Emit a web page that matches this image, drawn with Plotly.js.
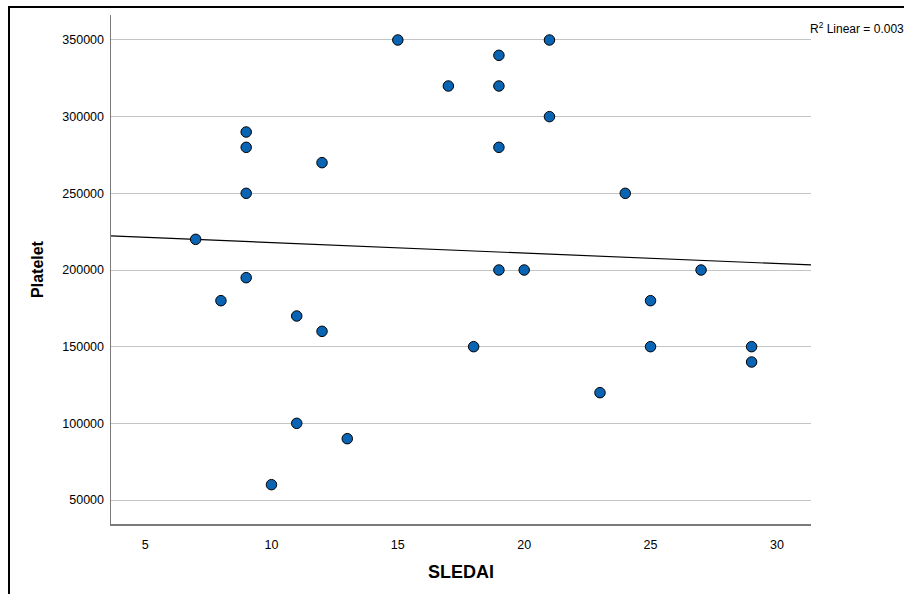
<!DOCTYPE html>
<html>
<head>
<meta charset="utf-8">
<script src="https://cdn.plot.ly/plotly-3.0.1.min.js"></script>
<style>
  html, body { margin: 0; padding: 0; background: #ffffff; }
  #chart { width: 904px; height: 594px; }
</style>
</head>
<body>
<div id="chart"></div>
<script>
// Data
const sledai   = [7, 8, 9, 9, 9, 9, 10, 11, 11, 12, 12, 13, 15, 17, 18, 19, 19, 19, 19, 20, 21, 21, 23, 24, 25, 25, 27, 29, 29];
const platelet = [220000, 180000, 290000, 280000, 250000, 195000, 60000, 170000, 100000, 270000, 160000, 90000,
                  350000, 320000, 150000, 340000, 320000, 280000, 200000, 200000, 350000, 300000, 120000,
                  250000, 180000, 150000, 200000, 150000, 140000];
// Fit line as drawn in the reference (end points)
const fitX = [3.65, 31.35];
const fitY = [222200, 203300];
const xTicks = [5, 10, 15, 20, 25, 30];
const yTicks = [50000, 100000, 150000, 200000, 250000, 300000, 350000];
const r2Label = 'R<sup>2</sup> Linear = 0.003';

const font = 'Liberation Sans, Arial, sans-serif';

const traces = [
  {
    x: fitX, y: fitY, type: 'scatter', mode: 'lines',
    line: { color: '#000000', width: 1.2 },
    hoverinfo: 'skip', showlegend: false
  },
  {
    x: sledai, y: platelet, type: 'scatter', mode: 'markers',
    marker: { size: 10.5, color: '#0a64b4', line: { color: '#000000', width: 1 } },
    hoverinfo: 'skip', showlegend: false
  }
];

const layout = {
  width: 904, height: 594,
  margin: { l: 111, r: 93, t: 15, b: 70 },
  paper_bgcolor: '#ffffff',
  plot_bgcolor: '#ffffff',
  font: { family: font, size: 12, color: '#000000' },
  xaxis: {
    range: [3.65, 31.35],
    tickvals: xTicks,
    ticktext: xTicks.map(String),
    showgrid: false, zeroline: false,
    showline: true, linecolor: '#7a7a7a', linewidth: 1.5,
    ticks: 'outside', ticklen: 8, tickcolor: 'rgba(0,0,0,0)',
    tickfont: { family: font, size: 12.5, color: '#000000' },
    title: { text: '<b>SLEDAI</b>', font: { family: font, size: 18, color: '#000000' }, standoff: 15 },
    automargin: false
  },
  yaxis: {
    range: [34350, 366300],
    tickvals: yTicks,
    ticktext: yTicks.map(String),
    showgrid: true, gridcolor: '#c4c4c4', gridwidth: 1,
    zeroline: false,
    showline: true, linecolor: '#7a7a7a', linewidth: 1.5,
    ticks: 'outside', ticklen: 3, tickcolor: 'rgba(0,0,0,0)',
    tickfont: { family: font, size: 12.5, color: '#000000' },
    title: { text: '<b>Platelet</b>', font: { family: font, size: 16, color: '#000000' }, standoff: 14 },
    automargin: false
  },
  shapes: [
    {
      type: 'rect', xref: 'paper', yref: 'paper',
      x0: (9 - 111) / 700, x1: 1.3, y0: -0.3, y1: 1 + (15 - 7) / 509,
      line: { color: '#000000', width: 2 }, fillcolor: 'rgba(0,0,0,0)', layer: 'below'
    }
  ],
  annotations: [
    {
      text: r2Label, xref: 'paper', yref: 'paper',
      x: 1, y: 1 - (28 - 15) / 509, xanchor: 'left', yanchor: 'middle', xshift: -3,
      showarrow: false, font: { family: font, size: 12, color: '#000000' }
    }
  ]
};

Plotly.newPlot('chart', traces, layout, { staticPlot: true, displayModeBar: false });
</script>
</body>
</html>
